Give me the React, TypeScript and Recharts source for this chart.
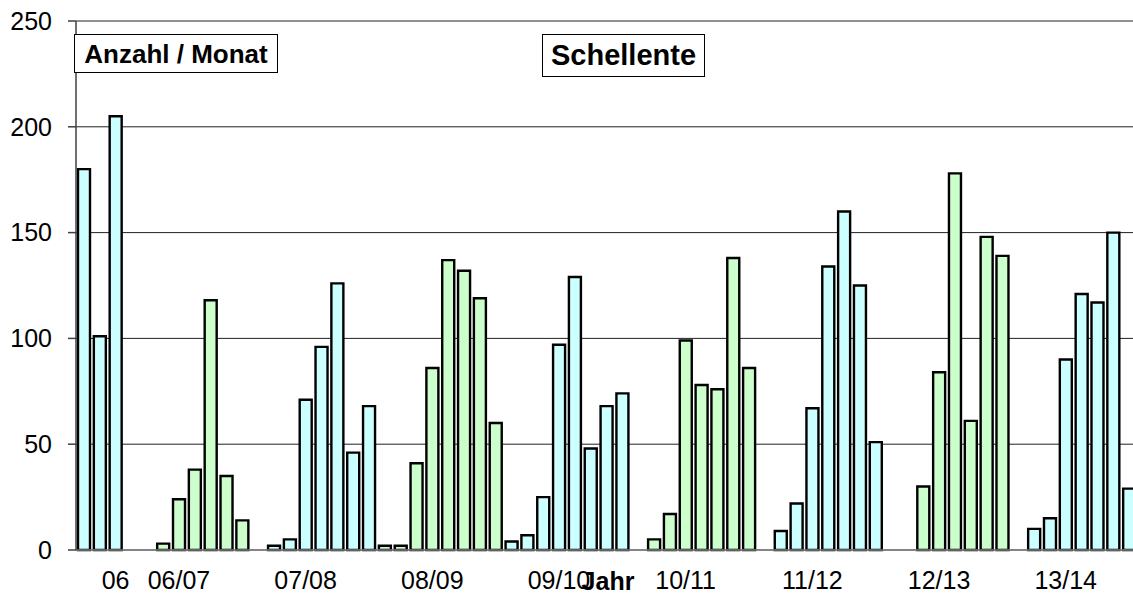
import React from 'react';
import { BarChart, Bar, XAxis, YAxis, CartesianGrid, Cell } from 'recharts';

// Monthly counts per season (8 months per season; null = no count)
const seasonNames = ['06', '06/07', '07/08', '08/09', '09/10', '10/11', '11/12', '12/13', '13/14'];
const s06 = [180, 101, 205];
const s0607 = [null, null, 3, 24, 38, 118, 35, 14];
const s0708 = [null, 2, 5, 71, 96, 126, 46, 68];
const s0809 = [2, 2, 41, 86, 137, 132, 119, 60];
const s0910 = [4, 7, 25, 97, 129, 48, 68, 74];
const s1011 = [null, 5, 17, 99, 78, 76, 138, 86];
const s1112 = [null, 9, 22, 67, 134, 160, 125, 51];
const s1213 = [null, null, 30, 84, 178, 61, 148, 139];
const s1314 = [null, 10, 15, 90, 121, 117, 150, 29];
const seasons = [s06, s0607, s0708, s0809, s0910, s1011, s1112, s1213, s1314];
// month (within the season) at which the season's label is printed
const labelMonth = [2, 3, 3, 3, 3, 3, 3, 3, 3];
const yTicks = [0, 50, 100, 150, 200, 250];
const seasonColors = ['#CCFFFF', '#CCFFCC'];

const data: { idx: number; value: number | null; season: number; label: string }[] = [];
seasons.forEach((vals, s) => {
  vals.forEach((v, m) => {
    data.push({
      idx: data.length,
      value: v,
      season: s,
      label: m === labelMonth[s] ? seasonNames[s] : '',
    });
  });
});

const FONT = '"Liberation Sans", Arial, sans-serif';

export default function App() {
  return (
    <div
      style={{
        position: 'absolute',
        left: 0,
        top: 0,
        width: 1133,
        height: 594,
        overflow: 'hidden',
        background: '#fff',
        fontFamily: FONT,
      }}
    >
      <BarChart
        width={1140}
        height={594}
        data={data}
        margin={{ top: 21, right: 3, left: 0, bottom: 0 }}
        barSize={12}
      >
        <CartesianGrid horizontal vertical={false} stroke="#222" strokeWidth={1} />
        <XAxis
          dataKey="idx"
          type="category"
          interval={0}
          height={44}
          tickLine={false}
          tickSize={6}
          tickMargin={15}
          axisLine={{ stroke: '#808080', strokeWidth: 1.5 }}
          tickFormatter={(v: any, i: number) => (data[i] ? data[i].label : '')}
          tick={{ fontSize: 25, fill: '#000', fontFamily: FONT }}
        />
        <YAxis
          width={76}
          domain={[0, 250]}
          ticks={yTicks}
          interval={0}
          tickSize={8}
          tickMargin={16}
          axisLine={{ stroke: '#404040', strokeWidth: 1.5 }}
          tickLine={{ stroke: '#404040', strokeWidth: 1.5 }}
          tick={{ fontSize: 25, fill: '#000', fontFamily: FONT }}
        />
        <Bar dataKey="value" stroke="#000" strokeWidth={2.4} isAnimationActive={false}>
          {data.map((d) => (
            <Cell key={d.idx} fill={seasonColors[d.season % 2]} />
          ))}
        </Bar>
      </BarChart>
      <div
        style={{
          position: 'absolute',
          left: 74,
          top: 34,
          width: 204,
          height: 39,
          boxSizing: 'border-box',
          border: '1px solid #000',
          background: '#fff',
          display: 'flex',
          alignItems: 'center',
          justifyContent: 'center',
          fontWeight: 'bold',
          fontSize: 26,
          lineHeight: 1,
          whiteSpace: 'nowrap',
        }}
      >
        Anzahl / Monat
      </div>
      <div
        style={{
          position: 'absolute',
          left: 542,
          top: 34,
          width: 163,
          height: 43,
          boxSizing: 'border-box',
          border: '1px solid #000',
          background: '#fff',
          display: 'flex',
          alignItems: 'center',
          justifyContent: 'center',
          fontWeight: 'bold',
          fontSize: 29,
          lineHeight: 1,
          whiteSpace: 'nowrap',
        }}
      >
        Schellente
      </div>
      <div
        style={{
          position: 'absolute',
          left: 568,
          top: 569,
          width: 80,
          textAlign: 'center',
          fontWeight: 'bold',
          fontSize: 25,
          lineHeight: 1,
          whiteSpace: 'nowrap',
        }}
      >
        Jahr
      </div>
    </div>
  );
}
